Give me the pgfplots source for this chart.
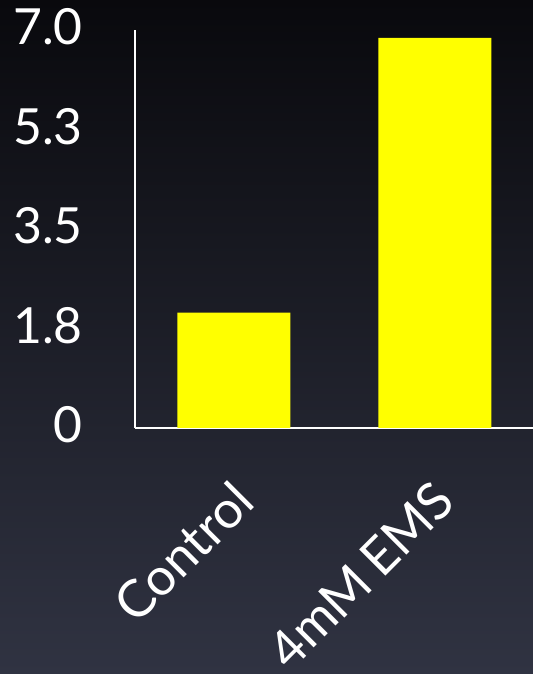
\documentclass[border=0pt]{standalone}
\usepackage{pgfplots}
\pgfplotsset{compat=1.18}
\usepackage{fontspec}
\setmainfont{Lato}

\definecolor{bgtop}{RGB}{9,9,13}
\definecolor{bgbot}{RGB}{48,51,66}
\definecolor{baryellow}{RGB}{255,255,0}

\begin{document}
\begin{tikzpicture}
\useasboundingbox (0,0) rectangle (533bp,674bp);
% slide background
\shade[top color=bgtop, bottom color=bgbot] (0,0) rectangle (533bp,674bp);

\begin{axis}[
    at={(135bp,246bp)},
    anchor=south west,
    scale only axis,
    width=398bp,
    height=398bp,
    xmin=-0.4925, xmax=1.4876,
    ymin=0, ymax=7,
    axis x line=bottom,
    axis y line=left,
    axis line style={white, line width=1.6bp, -},
    xtick={0,1},
    xticklabels={Control,4mM\hspace{-3bp} EMS},
    ytick={0,1.75,3.5,5.25,7},
    yticklabels={0,1.8,3.5,5.3,7.0},
    major tick length=0pt,
    yticklabel style={white, font=\fontsize{50}{56}\selectfont,
        anchor=east, inner sep=0pt, xshift=-52bp, yshift=3bp},
    xticklabel style={white, font=\fontsize{52}{58}\selectfont,
        xshift=-4bp, yshift=-50bp, rotate=45, anchor=north east, inner sep=0pt},
    ybar,
    bar width=113bp,
]
    % measured values
    \addplot[fill=baryellow, draw=none] coordinates {
        (0, 2.03) (1, 6.86)
    };
\end{axis}
\end{tikzpicture}
\end{document}
